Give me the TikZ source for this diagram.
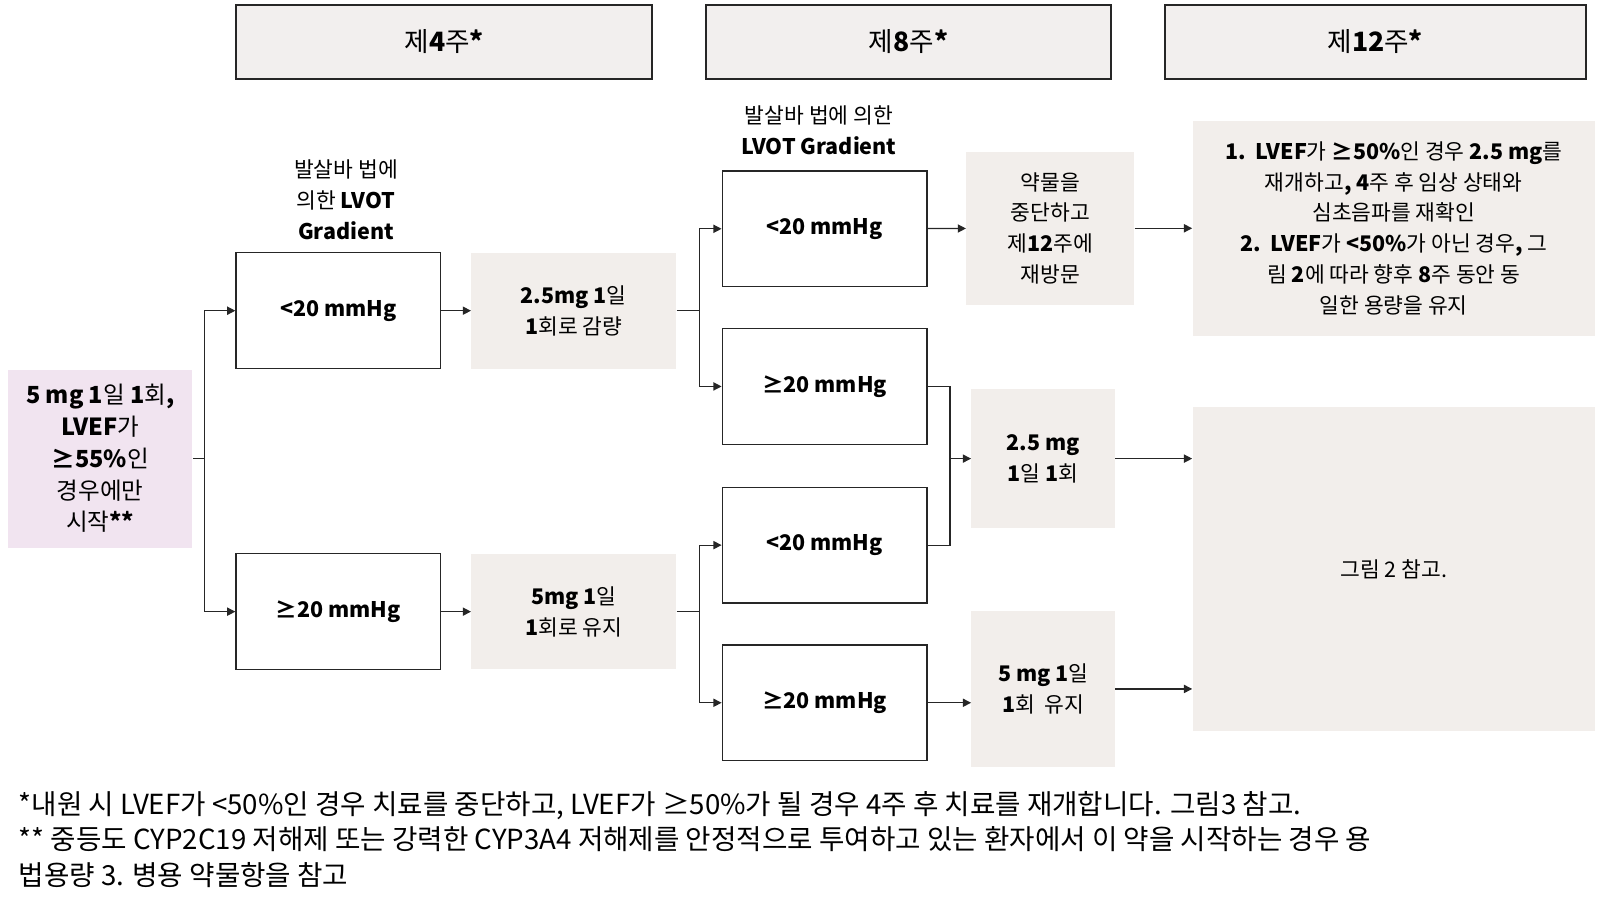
\documentclass[tikz,border=0pt]{standalone}
\usepackage{fontspec}
\setmainfont{Noto Sans CJK KR}
\usetikzlibrary{arrows.meta}
\definecolor{beige}{HTML}{F2EEEB}
\definecolor{lilac}{HTML}{F1E4F0}
\definecolor{hdr}{HTML}{F2EFEE}
\begin{document}
\begin{tikzpicture}[x=0.5pt,y=-0.5pt,
  every node/.style={align=center, inner sep=0pt, font=\fontsize{10.5}{15}\selectfont},
  hdr/.style={draw=black!85, line width=1pt, fill=hdr, minimum width=#1*0.5pt, minimum height=36pt, font=\fontsize{13}{15}\selectfont},
  grad/.style={draw=black!85, line width=0.6pt, fill=white, minimum width=100pt, minimum height=56.5pt, font=\bfseries\fontsize{10.5}{15}\selectfont},
  dose/.style={fill=beige, minimum width=100pt, minimum height=56.5pt},
  line/.style={line width=0.6pt, black!85},
  arr/.style={line, -{Triangle[length=4pt,width=4pt]}}]
  \useasboundingbox (0,0) rectangle (1563,880);
  % week headers
  \node[hdr=406] (w4) at (434,41) {제\textbf{4}주\textbf{*}};
  \node[hdr=395] (w8) at (887.5,41) {제\textbf{8}주\textbf{*}};
  \node[hdr=411] (w12) at (1343.5,41) {제\textbf{12}주\textbf{*}};
  % start
  \node[fill=lilac, minimum width=90pt, minimum height=87pt, font=\fontsize{11.5}{15.5}\selectfont] (start) at (98,448)
    {\textbf{5 mg 1}일 \textbf{1}회\textbf{,}\\\textbf{LVEF}가\\\textbf{≥55\%}인\\경우에만\\시작\textbf{**}};
  % first gradient
  \node (lab1) at (338,195) {발살바 법에\\의한 \textbf{LVOT}\\\textbf{Gradient}};
  \node[grad] (a1) at (330.5,303.5) {<20 mmHg};
  \node[grad] (a2) at (330.5,597.5) {≥20 mmHg};
  \node[dose] (b1) at (560.5,303.5) {\textbf{2.5mg 1}일\\\textbf{1}회로 감량};
  \node[dose] (b2) at (560.5,597.5) {\textbf{5mg 1}일\\\textbf{1}회로 유지};
  % second gradient
  \node (lab2) at (800,127) {발살바 법에 의한\\\textbf{LVOT Gradient}};
  \node[grad] (c1) at (805.5,223.5) {<20 mmHg};
  \node[grad] (c2) at (805.5,377.5) {≥20 mmHg};
  \node[grad] (c3) at (805.5,532.5) {<20 mmHg};
  \node[grad] (c4) at (805.5,686.5) {≥20 mmHg};
  \node[fill=beige, minimum width=82pt, minimum height=75pt] (d1) at (1026,223) {약물을\\중단하고\\제\textbf{12}주에\\재방문};
  \node[fill=beige, minimum width=70pt, minimum height=68pt] (d2) at (1019,448) {\textbf{2.5 mg}\\\textbf{1}일 \textbf{1}회};
  \node[fill=beige, minimum width=70pt, minimum height=76pt] (d3) at (1019,673) {\textbf{5 mg 1}일\\\textbf{1}회 \ 유지};
  % week 12
  \node[fill=beige, minimum width=196.5pt, minimum height=105pt] (e1) at (1361.5,223)
    {\textbf{1.\ \ LVEF}가 \textbf{≥50\%}인 경우 \textbf{2.5 mg}를\\재개하고\textbf{, 4}주 후 임상 상태와\\심초음파를 재확인\\\textbf{2.\ \ LVEF}가 \textbf{<50\%}가 아닌 경우\textbf{,} 그\\림 \textbf{2}에 따라 향후 \textbf{8}주 동안 동\\일한 용량을 유지};
  \node[fill=beige, minimum width=196.5pt, minimum height=158pt] (e2) at (1361.5,556) {그림 2 참고.};
  % connectors
  \coordinate (s1) at (200,448);
  \draw[line] (start.east) -- (s1);
  \draw[arr] (s1) |- (a1.west);
  \draw[arr] (s1) |- (a2.west);
  \draw[arr] (a1) -- (b1);
  \draw[arr] (a2) -- (b2);
  \coordinate (s2) at (683,303.5);
  \coordinate (s3) at (683,597.5);
  \draw[line] (b1.east) -- (s2);
  \draw[line] (b2.east) -- (s3);
  \draw[arr] (s2) |- (c1.west);
  \draw[arr] (s2) |- (c2.west);
  \draw[arr] (s3) |- (c3.west);
  \draw[arr] (s3) |- (c4.west);
  \draw[arr] (c1) -- (d1);
  \coordinate (m1) at (928,448);
  \draw[line] (c2.east) -| (m1) |- (c3.east);
  \draw[arr] (m1) -- (d2);
  \draw[arr] (c4) -- (d3.west |- c4);
  \draw[arr] (d1) -- (e1.west |- d1);
  \draw[arr] (d2) -- (e2.west |- d2);
  \draw[arr] (d3) -- (e2.west |- d3);
  % notes
  \node[anchor=west, align=left, font=\fontsize{13.5}{17.5}\selectfont] (notes) at (18,820)
    {*내원 시 LVEF가 <50\%인 경우 치료를 중단하고, LVEF가 ≥50\%가 될 경우 4주 후 치료를 재개합니다. 그림3 참고.\\
     ** 중등도 CYP2C19 저해제 또는 강력한 CYP3A4 저해제를 안정적으로 투여하고 있는 환자에서 이 약을 시작하는 경우 용\\
     법용량 3. 병용 약물항을 참고};
\end{tikzpicture}
\end{document}
